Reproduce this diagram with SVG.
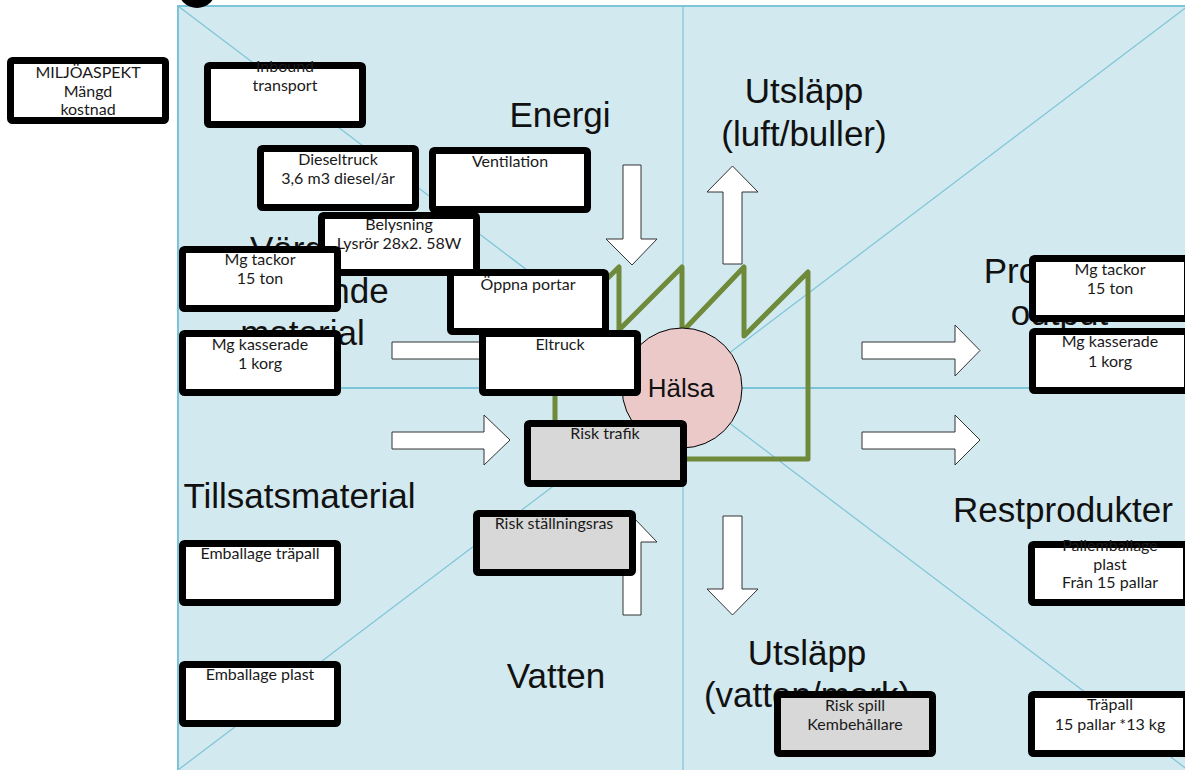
<svg xmlns="http://www.w3.org/2000/svg" width="1185" height="770" viewBox="0 0 1185 770">
<style>
.bg{fill:#d2e9ef;stroke:#7cc5d8;stroke-width:2}
.grid{stroke:#7cc5d8;stroke-width:1.2;fill:none}
.big{font-family:"Liberation Sans",Arial,sans-serif;font-size:35px;fill:#111;text-anchor:middle}
.arr{fill:#fff;stroke:#333;stroke-width:1}
.fac{fill:none;stroke:#6f8a3b;stroke-width:5;stroke-linejoin:round;stroke-linecap:round}
.box{fill:#fff;stroke:#000;stroke-width:7}
.risk{fill:#d8d8d8;stroke:#000;stroke-width:7}
.bt{font-family:Lato,"Liberation Sans",sans-serif;font-size:16px;fill:#1a1a1a;text-anchor:middle}
</style>
<rect class="bg" x="178" y="6" width="1012" height="768"/>
<g id="grid">
<line class="grid" x1="178" y1="6" x2="1188" y2="770"/>
<line class="grid" x1="1188" y1="6" x2="178" y2="770"/>
<line class="grid" x1="683" y1="6" x2="683" y2="770"/>
<line class="grid" x1="178" y1="388" x2="1185" y2="388" style="stroke-width:2"/>
</g>
<circle cx="197" cy="-11" r="19" fill="#000"/>
<g id="labels">
<text class="big" x="560" y="127">Energi</text>
<text class="big" x="804" y="103">Utsläpp</text>
<text class="big" x="804" y="146">(luft/buller)</text>
<text class="big" x="302.5" y="261">Värde-</text>
<text class="big" x="305" y="303">adderande</text>
<text class="big" x="302.5" y="345">material</text>
<text class="big" x="1059.5" y="283">Produkter</text>
<text class="big" x="1059.5" y="325">output</text>
<text class="big" x="299.5" y="508">Tillsatsmaterial</text>
<text class="big" x="1063" y="522">Restprodukter</text>
<text class="big" x="556" y="688">Vatten</text>
<text class="big" x="807" y="665">Utsläpp</text>
<text class="big" x="807" y="707">(vatten/mark)</text>
</g>
<g id="connectors">
<path class="arr" d="M392,342 H484 V325 L510,350.5 L484,376 V359 H392 Z"/>
<path class="arr" d="M392,432 H484 V415 L510,440 L484,465 V449 H392 Z"/>
<path class="arr" d="M862,342 H955 V325 L980,350.5 L955,376 V359 H862 Z"/>
<path class="arr" d="M862,432 H955 V415 L980,440 L955,465 V449 H862 Z"/>
<path class="arr" d="M623,165 H641 V239 H657 L632,265 L606,239 H623 Z"/>
<path class="arr" d="M723,516 H742 V589 H758 L732.5,615 L707,589 H723 Z"/>
<path class="arr" d="M723,264 V192 H707 L732.5,166 L758,192 H742 V264 Z"/>
<path class="arr" d="M623,615 V542 H607 L632,516 L657,542 H641 V615 Z"/>
</g>
<g id="fabrik">
<path class="fac" d="M555,459 V330 L619,267 V330 L682,267 V332 L744,267 V336 L808,272 V459 Z"/>
</g>
<g id="halsa">
<circle cx="682" cy="388" r="60" fill="#ecc9c9" stroke="#000" stroke-width="1"/>
<text x="681" y="397" style="font-family:'Liberation Sans',Arial,sans-serif;font-size:26px;fill:#111;text-anchor:middle">Hälsa</text>
</g>
<g id="miljoaspekt"><rect class="box" x="10.5" y="60.5" width="155" height="60" rx="2"/>
<text class="bt" x="88" y="78">MILJÖASPEKT</text><text class="bt" x="88" y="97">Mängd</text><text class="bt" x="88" y="115">kostnad</text></g>
<g id="inbound"><rect class="box" x="207.5" y="65.5" width="155" height="59" rx="2"/>
<text class="bt" x="285" y="72">Inbound</text><text class="bt" x="285" y="91">transport</text></g>
<g id="dieseltruck"><rect class="box" x="260.5" y="148.5" width="155" height="59" rx="2"/>
<text class="bt" x="338" y="165">Dieseltruck</text><text class="bt" x="338" y="184">3,6 m3 diesel/år</text></g>
<g id="ventilation"><rect class="box" x="432.5" y="150.5" width="155" height="59" rx="2"/>
<text class="bt" x="510" y="167">Ventilation</text></g>
<g id="belysning"><rect class="box" x="321.5" y="215.5" width="155" height="57" rx="2"/>
<text class="bt" x="399" y="230">Belysning</text><text class="bt" x="399" y="249">Lysrör 28x2. 58W</text></g>
<g id="mgtackor-in"><rect class="box" x="182.5" y="249.5" width="155" height="59" rx="2"/>
<text class="bt" x="260" y="265">Mg tackor</text><text class="bt" x="260" y="284">15 ton</text></g>
<g id="mgkasserade-in"><rect class="box" x="182.5" y="333.5" width="155" height="59" rx="2"/>
<text class="bt" x="260" y="350">Mg kasserade</text><text class="bt" x="260" y="369">1 korg</text></g>
<g id="oppnaportar"><rect class="box" x="450.5" y="272.5" width="155" height="59" rx="2"/>
<text class="bt" x="528" y="290">Öppna portar</text></g>
<g id="eltruck"><rect class="box" x="482.5" y="333.5" width="155" height="59" rx="2"/>
<text class="bt" x="560" y="350">Eltruck</text></g>
<g id="risktrafik"><rect class="risk" x="527.5" y="423.5" width="156" height="60" rx="2"/>
<text class="bt" x="605" y="439">Risk trafik</text></g>
<g id="riskstallningsras"><rect class="risk" x="476.5" y="513.5" width="156" height="59" rx="2"/>
<text class="bt" x="554" y="529">Risk ställningsras</text></g>
<g id="emballagetrapall"><rect class="box" x="182.5" y="543.5" width="155" height="59" rx="2"/>
<text class="bt" x="260" y="559">Emballage träpall</text></g>
<g id="emballageplast"><rect class="box" x="182.5" y="664.5" width="155" height="59" rx="2"/>
<text class="bt" x="260" y="680">Emballage plast</text></g>
<g id="mgtackor-ut"><rect class="box" x="1032.5" y="258.5" width="155" height="60" rx="2"/>
<text class="bt" x="1110" y="275">Mg tackor</text><text class="bt" x="1110" y="294">15 ton</text></g>
<g id="mgkasserade-ut"><rect class="box" x="1032.5" y="331.5" width="155" height="59" rx="2"/>
<text class="bt" x="1110" y="347">Mg kasserade</text><text class="bt" x="1110" y="367">1 korg</text></g>
<g id="pallemballage"><rect class="box" x="1031.5" y="544.5" width="155" height="58" rx="2"/>
<text class="bt" x="1110" y="551">Pallemballage</text><text class="bt" x="1110" y="570">plast</text><text class="bt" x="1110" y="588">Från 15 pallar</text></g>
<g id="trapall"><rect class="box" x="1031.5" y="694.5" width="155" height="59" rx="2"/>
<text class="bt" x="1110" y="710">Träpall</text><text class="bt" x="1110" y="730">15 pallar *13 kg</text></g>
<g id="riskspill"><rect class="risk" x="777.5" y="694.5" width="155" height="59" rx="2"/>
<text class="bt" x="855" y="711">Risk spill</text><text class="bt" x="855" y="730">Kembehållare</text></g>
</svg>
